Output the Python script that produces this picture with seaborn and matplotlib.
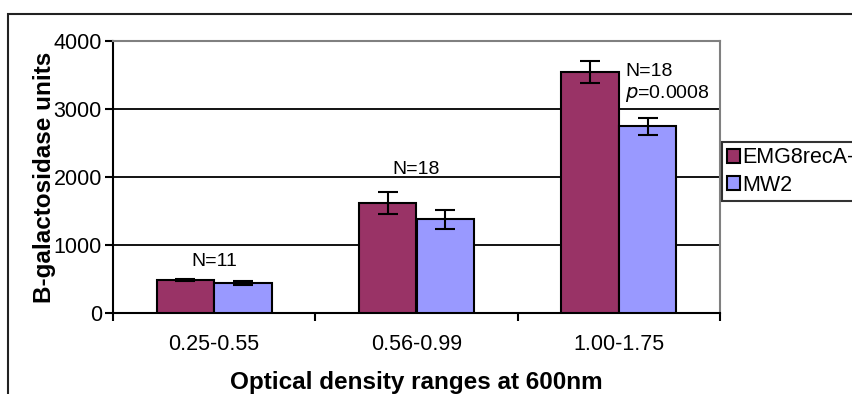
import matplotlib
matplotlib.use("Agg")
import pandas as pd
import matplotlib.pyplot as plt
import seaborn as sns
from matplotlib.patches import Rectangle

# data
ranges = ["0.25-0.55", "0.56-0.99", "1.00-1.75"]
strains = ["EMG8recA-", "MW2"]
emg8 = [480, 1620, 3540]
emg8_err = [15, 160, 160]
mw2 = [440, 1380, 2750]
mw2_err = [25, 140, 125]
notes = ["N=11", "N=18", "N=18"]

df = pd.DataFrame({
    "range": ranges * 2,
    "strain": [strains[0]] * 3 + [strains[1]] * 3,
    "units": emg8 + mw2,
    "err": emg8_err + mw2_err,
})

sns.set_style("white")
plt.rcParams["font.family"] = ["Liberation Sans", "DejaVu Sans"]
plt.rcParams["text.color"] = "black"
plt.rcParams["axes.labelcolor"] = "black"
plt.rcParams["xtick.color"] = "black"
plt.rcParams["ytick.color"] = "black"

fig = plt.figure(figsize=(8.52, 3.94), dpi=100)
ax = fig.add_axes([113 / 852, 1 - 313 / 394, 607 / 852, 272 / 394])

colors = {"EMG8recA-": "#993366", "MW2": "#9999FF"}
sns.barplot(data=df, x="range", y="units", hue="strain", palette=colors,
            width=0.57, edgecolor="black", linewidth=1.5, errorbar=None,
            saturation=1, ax=ax, zorder=3)

# error bars at the bar centres seaborn chose
for bars, errs in zip(ax.containers, [emg8_err, mw2_err]):
    xs = [b.get_x() + b.get_width() / 2 for b in bars]
    ys = [b.get_height() for b in bars]
    ax.errorbar(xs, ys, yerr=errs, fmt="none", ecolor="black",
                elinewidth=1.5, capsize=7.5, capthick=1.5, zorder=4)

ax.set_ylim(0, 4000)
ax.set_xlim(-0.5, 2.5)
ax.set_yticks([0, 1000, 2000, 3000, 4000])
for yv in [1000, 2000, 3000]:
    ax.axhline(yv, color="black", lw=1.3, zorder=1)

ax.set_xticks([-0.5, 0.5, 1.5, 2.5])
ax.set_xticklabels([])
ax.set_xticks([0, 1, 2], minor=True)
ax.set_xticklabels(ranges, minor=True)
ax.tick_params(axis="x", which="major", direction="out", length=6, width=1.5,
               bottom=True, color="black")
ax.tick_params(axis="x", which="minor", length=0, pad=15, labelsize=15.5)
ax.tick_params(axis="y", direction="out", length=6, width=1.5, left=True,
               color="black", labelsize=15.5, pad=2)

for side in ["left", "bottom"]:
    ax.spines[side].set_color("black")
    ax.spines[side].set_linewidth(1.5)
for side in ["top", "right"]:
    ax.spines[side].set_color("#808080")
    ax.spines[side].set_linewidth(1.5)

ax.set_xlabel("Optical density ranges at 600nm", fontsize=17.5,
              fontweight="bold", va="center")
ax.set_ylabel("B-galactosidase units", fontsize=17.5, fontweight="bold",
              va="center")
ax.xaxis.set_label_coords(0.5, (313 - 382) / 272)
ax.yaxis.set_label_coords((45 - 113) / 607, 0.5)

ax.text(0, 630, notes[0], ha="center", va="bottom", fontsize=14)
ax.text(1, 1990, notes[1], ha="center", va="bottom", fontsize=14)
ax.text(2.03, 3420, notes[2], ha="left", va="bottom", fontsize=14)
ax.text(2.03, 3080, "$p$=0.0008", ha="left", va="bottom", fontsize=14)

leg = ax.legend(loc="upper left", bbox_to_anchor=(722 / 852, 1 - 142 / 394),
                bbox_transform=fig.transFigure, frameon=True, fancybox=False,
                edgecolor="black", fontsize=15.5, handlelength=0.6,
                handleheight=0.6, handletextpad=0.1, borderpad=0.25,
                labelspacing=0.3, borderaxespad=0, title=None)
leg.get_frame().set_linewidth(1.5)
for h in leg.legend_handles:
    h.set_edgecolor("black")
    h.set_linewidth(1.5)

# outer chart border (cut off at the right and bottom, as in the original)
fig.add_artist(Rectangle((8 / 852, -0.2), 1.2, 1 - 14 / 394 + 0.2,
                         transform=fig.transFigure, fill=False,
                         edgecolor="#222222", lw=1.5, clip_on=False))

fig.savefig("out.png", dpi=100)
